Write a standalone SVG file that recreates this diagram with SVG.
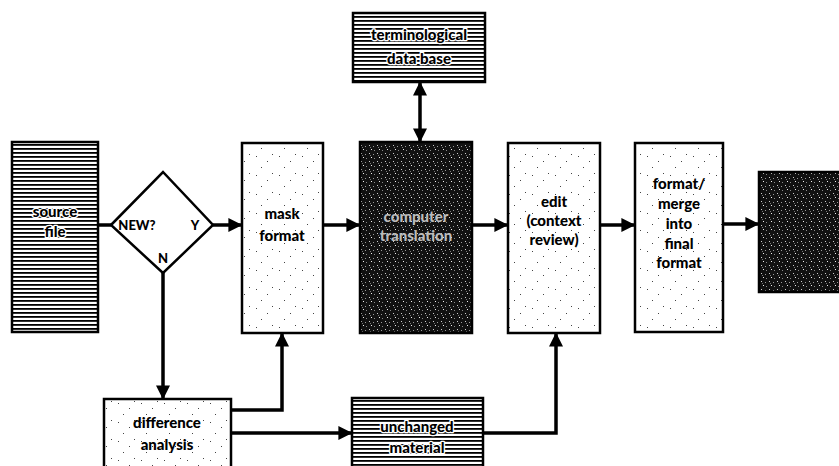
<svg xmlns="http://www.w3.org/2000/svg" width="839" height="466" viewBox="0 0 839 466">
<defs>
<style>
.box{stroke:#000;stroke-width:2.5}
.lbl{font-family:Lato,"Liberation Sans",sans-serif;font-weight:900;font-size:15px;text-anchor:middle;fill:#000}
.hl{font-family:Lato,"Liberation Sans",sans-serif;font-weight:900;font-size:15px;text-anchor:middle;fill:#000;stroke:#fff;stroke-width:2.5;paint-order:stroke;stroke-linejoin:round}
.dk{font-family:Lato,"Liberation Sans",sans-serif;font-weight:900;font-size:15px;text-anchor:middle;fill:#bbb}
.ln{stroke:#000;stroke-width:3.5;fill:none}
</style>
<pattern id="hatch" width="40" height="4" patternUnits="userSpaceOnUse">
<rect width="40" height="4" fill="#fff"/>
<rect y="0" width="40" height="1.8" fill="#000"/>
</pattern>
<pattern id="dots" width="23" height="19" patternUnits="userSpaceOnUse">
<rect width="23" height="19" fill="#fff"/>
<rect x="3" y="4" width="1" height="1" fill="#444"/>
<rect x="14" y="9" width="1" height="1" fill="#444"/>
<rect x="8" y="15" width="1" height="1" fill="#444"/>
<rect x="19" y="2" width="1" height="1" fill="#444"/>
</pattern>
<pattern id="dark" width="8" height="8" patternUnits="userSpaceOnUse">
<rect width="8" height="8" fill="#111"/>
<rect x="1" y="1" width="1" height="1" fill="#ccc"/>
<rect x="5" y="2" width="1" height="1" fill="#999"/>
<rect x="3" y="5" width="1" height="1" fill="#eee"/>
<rect x="6" y="6" width="1" height="1" fill="#888"/>
<rect x="2" y="3" width="1" height="1" fill="#777"/>
</pattern>
<marker id="ah" viewBox="0 0 10 10" refX="9" refY="5" markerWidth="4.5" markerHeight="4" orient="auto-start-reverse" markerUnits="strokeWidth">
<path d="M0,0 L10,5 L0,10 z" fill="#000"/>
</marker>
</defs>
<rect width="839" height="466" fill="#fff"/>

<g id="connectors">
<line class="ln" x1="98" y1="225" x2="111" y2="225"/>
<line class="ln" x1="213" y1="225" x2="241" y2="225" marker-end="url(#ah)"/>
<line class="ln" x1="163" y1="273" x2="163" y2="398" marker-end="url(#ah)"/>
<line class="ln" x1="323" y1="225" x2="359" y2="225" marker-end="url(#ah)"/>
<line class="ln" x1="472" y1="225" x2="507" y2="225" marker-end="url(#ah)"/>
<line class="ln" x1="600" y1="225" x2="634" y2="225" marker-end="url(#ah)"/>
<line class="ln" x1="723" y1="224" x2="758" y2="224" marker-end="url(#ah)"/>
<polyline class="ln" points="231,410 282,410 282,334" marker-end="url(#ah)"/>
<line class="ln" x1="231" y1="433" x2="351" y2="433" marker-end="url(#ah)"/>
<polyline class="ln" points="483,433 556,433 556,334" marker-end="url(#ah)"/>
<line class="ln" x1="420" y1="83" x2="420" y2="141" marker-start="url(#ah)" marker-end="url(#ah)"/>
</g>

<g id="source">
<rect class="box" x="12" y="142" width="86" height="190" fill="url(#hatch)"/>
<text class="hl" x="55" y="217">source</text>
<text class="hl" x="55" y="237">file</text>
</g>

<g id="decision">
<polygon class="box" points="111,225 163,172 213,225 163,273" fill="#fff" stroke-width="3"/>
<text class="lbl" x="137" y="230" style="font-size:13px">NEW?</text>
<text class="lbl" x="195" y="230" style="font-size:13px">Y</text>
<text class="lbl" x="163" y="263" style="font-size:13px">N</text>
</g>

<g id="mask">
<rect class="box" x="242" y="143" width="81" height="190" fill="url(#dots)"/>
<text class="lbl" x="282" y="219">mask</text>
<text class="lbl" x="282" y="241">format</text>
</g>

<g id="terminology">
<rect class="box" x="353" y="13" width="132" height="69" fill="url(#hatch)"/>
<text class="hl" x="419" y="40">terminological</text>
<text class="hl" x="419" y="64">data base</text>
</g>

<g id="computer">
<rect class="box" x="360" y="142" width="112" height="191" fill="url(#dark)"/>
<text class="dk" x="416" y="222">computer</text>
<text class="dk" x="416" y="241">translation</text>
</g>

<g id="edit">
<rect class="box" x="508" y="143" width="92" height="190" fill="url(#dots)"/>
<text class="lbl" x="554" y="207">edit</text>
<text class="lbl" x="554" y="226">(context</text>
<text class="lbl" x="554" y="245">review)</text>
</g>

<g id="final">
<rect class="box" x="635" y="143" width="88" height="189" fill="url(#dots)"/>
<text class="lbl" x="679" y="189">format/</text>
<text class="lbl" x="679" y="209">merge</text>
<text class="lbl" x="679" y="229">into</text>
<text class="lbl" x="679" y="249">final</text>
<text class="lbl" x="679" y="268">format</text>
</g>

<g id="output">
<rect class="box" x="759" y="172" width="82" height="120" fill="url(#dark)"/>
</g>

<g id="difference">
<rect class="box" x="104" y="399" width="127" height="70" fill="url(#dots)"/>
<text class="lbl" x="167" y="428">difference</text>
<text class="lbl" x="167" y="450">analysis</text>
</g>

<g id="unchanged">
<rect class="box" x="352" y="398" width="131" height="71" fill="url(#hatch)"/>
<text class="hl" x="417" y="432">unchanged</text>
<text class="hl" x="417" y="453">material</text>
</g>
</svg>
